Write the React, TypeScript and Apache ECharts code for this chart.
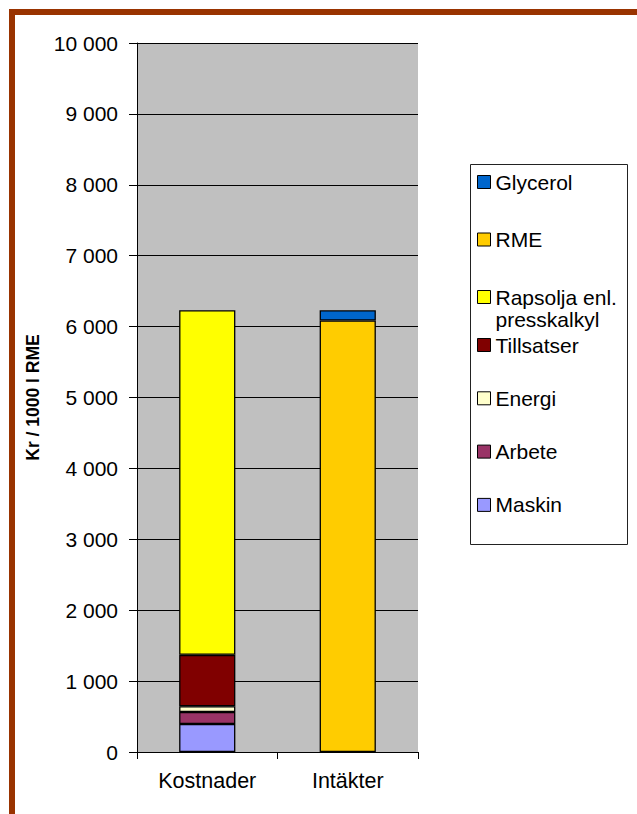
import React, { useEffect, useRef } from 'react';
import * as echarts from 'echarts';

const categories = ['Kostnader', 'Intäkter'];

const maskinValues = [395, '-'];
const arbeteValues = [170, '-'];
const energiValues = [80, '-'];
const tillsatserValues = [725, '-'];
const rapsoljaValues = [4860, '-'];
const rmeValues = ['-', 6085];
const glycerolValues = ['-', 145];

const seriesNames = ['Maskin', 'Arbete', 'Energi', 'Tillsatser', 'Rapsolja enl. presskalkyl', 'RME', 'Glycerol'];
const seriesValues = [maskinValues, arbeteValues, energiValues, tillsatserValues, rapsoljaValues, rmeValues, glycerolValues];
const seriesColors = ['#9999FF', '#993366', '#FFFFCC', '#800000', '#FFFF00', '#FFCC00', '#0066CC'];

const legendTop = ['Glycerol', 'RME', 'Rapsolja enl. presskalkyl'];
const legendBottom = ['Tillsatser', 'Energi', 'Arbete', 'Maskin'];

const yMin = 0;
const yMax = 10000;
const yInterval = 1000;
const yAxisName = 'Kr / 1000 l RME';

const FONT = 'Liberation Sans, Arial, sans-serif';

function fmt(v: number) {
  return String(v).replace(/\B(?=(\d{3})+(?!\d))/g, ' ');
}

export default function App() {
  const ref = useRef<HTMLDivElement>(null);
  useEffect(() => {
    const chart = echarts.init(ref.current!, null, { renderer: 'svg' });
    const legendText = {
      fontFamily: FONT,
      fontSize: 21,
      color: '#000',
      lineHeight: 22,
      rich: {},
    };
    const legendFormatter = (name: string) =>
      name === 'Rapsolja enl. presskalkyl' ? 'Rapsolja enl.\npresskalkyl' : name;
    const option: any = {
      animation: false,
      backgroundColor: '#fff',
      textStyle: { fontFamily: FONT },
      grid: {
        left: 137,
        right: 219,
        top: 43,
        bottom: 62,
        show: true,
        backgroundColor: '#C0C0C0',
        borderWidth: 0,
      },
      graphic: [
        {
          type: 'rect',
          z: 0,
          shape: { x: 12, y: 12, width: 700, height: 900 },
          style: { fill: 'none', stroke: '#993300', lineWidth: 6 },
        },
        {
          type: 'rect',
          z: 1,
          shape: { x: 470.5, y: 164.5, width: 157, height: 380 },
          style: { fill: '#fff', stroke: '#222', lineWidth: 1 },
        },
      ],
      legend: [
        {
          data: legendTop.map((n) =>
            n === 'Rapsolja enl. presskalkyl' ? { name: n, textStyle: { padding: [0, 0, -22, 0] } } : { name: n }
          ),
          orient: 'vertical',
          left: 477,
          top: 171,
          padding: 0,
          itemGap: 35.5,
          itemWidth: 13,
          itemHeight: 13,
          icon: 'rect',
          itemStyle: { borderColor: '#000', borderWidth: 1 },
          textStyle: legendText,
          formatter: legendFormatter,
          selectedMode: false,
          z: 5,
        },
        {
          data: legendBottom,
          orient: 'vertical',
          left: 477,
          top: 334,
          padding: 0,
          itemGap: 31.3,
          itemWidth: 13,
          itemHeight: 13,
          icon: 'rect',
          itemStyle: { borderColor: '#000', borderWidth: 1 },
          textStyle: legendText,
          formatter: legendFormatter,
          selectedMode: false,
          z: 5,
        },
      ],
      xAxis: {
        type: 'category',
        data: categories,
        boundaryGap: true,
        axisLine: { show: true, lineStyle: { color: '#000', width: 1 } },
        axisTick: { show: true, inside: false, length: 7, interval: 0, alignWithLabel: false, lineStyle: { color: '#000' } },
        axisLabel: { color: '#000', fontSize: 21.5, fontFamily: FONT, margin: 18, interval: 0 },
        splitLine: { show: false },
      },
      yAxis: {
        type: 'value',
        min: yMin,
        max: yMax,
        interval: yInterval,
        name: yAxisName,
        nameLocation: 'middle',
        nameGap: 95,
        nameTextStyle: { color: '#000', fontSize: 17.5, fontWeight: 'bold', fontFamily: FONT },
        axisLine: { show: true, lineStyle: { color: '#000', width: 1 } },
        axisTick: { show: true, inside: false, length: 8, lineStyle: { color: '#000' } },
        axisLabel: { color: '#000', fontSize: 21, fontFamily: FONT, margin: 19, formatter: (v: number) => fmt(v) },
        splitLine: { show: true, lineStyle: { color: '#000', width: 1 } },
      },
      series: seriesNames.map((name, i) => ({
        name,
        type: 'bar',
        stack: 'total',
        data: seriesValues[i],
        barWidth: '40%',
        itemStyle: { color: seriesColors[i], borderColor: '#000', borderWidth: 1.3 },
        emphasis: { disabled: true },
      })),
    };
    chart.setOption(option);
    return () => chart.dispose();
  }, []);
  return (
    <div
      ref={ref}
      style={{ position: 'fixed', left: 0, top: 0, width: 637, height: 814 }}
    />
  );
}
